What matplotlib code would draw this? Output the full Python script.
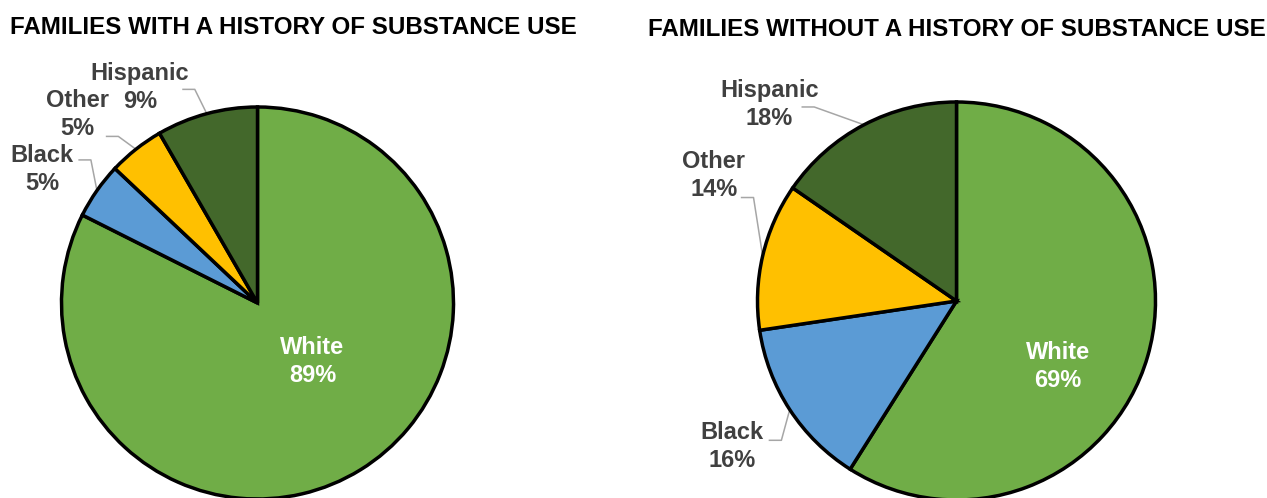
"""Two pie charts: race/ethnicity of families with and without a history of substance use."""

import numpy as np
import matplotlib
matplotlib.use("Agg")
import matplotlib.pyplot as plt

plt.rcParams['font.family'] = ['Liberation Sans', 'DejaVu Sans']

W_PX, H_PX = 1267, 498

CATEGORIES = ["White", "Black", "Other", "Hispanic"]
COLORS = ["#70AD47", "#5B9BD5", "#FFC000", "#43682B"]

WITH_USE = [89, 5, 5, 9]
WITHOUT_USE = [69, 16, 14, 18]

TITLES = ["FAMILIES WITH A HISTORY OF SUBSTANCE USE",
          "FAMILIES WITHOUT A HISTORY OF SUBSTANCE USE"]

LABEL_GRAY = "#404040"
LEADER_GRAY = "#A6A6A6"

# pie centers and radii in pixels (x from left, y from top)
CENTERS = [(257.5, 303), (956.5, 301)]
RADII = [196, 199]
TITLE_POS = [(10, 27), (648, 30)]
LINE_GAP_PX = 28  # distance between name line and percent line

# label text positions and leader start points, in pie units (radius = 1)
TEXT_POS = [
    [(0.28, -0.30), (-1.10, 0.68), (-0.92, 0.96), (-0.60, 1.10)],
    [(0.51, -0.33), (-1.13, -0.73), (-1.22, 0.63), (-0.94, 0.985)],
]
LEADER_START = [
    [None, (-0.91, 0.73), (-0.77, 0.85), (-0.38, 1.09)],
    [None, (-0.94, -0.70), (-1.08, 0.52), (-0.775, 0.975)],
]


def drawPie(fig, center, radius, values, text_pos, leader_start):
    cx, cy = center
    ax = fig.add_axes([(cx - radius) / W_PX, (H_PX - cy - radius) / H_PX,
                       2 * radius / W_PX, 2 * radius / H_PX])
    wedges, _ = ax.pie(values, colors=COLORS, startangle=90, counterclock=False,
                       radius=1, wedgeprops=dict(edgecolor="black", linewidth=2.5))
    for w in wedges:
        w.set_clip_on(False)
    ax.set_xlim(-1, 1)
    ax.set_ylim(-1, 1)
    ax.set_aspect("equal")
    ax.axis("off")

    half_gap = LINE_GAP_PX / 2 / radius
    for i, (cat, val, w) in enumerate(zip(CATEGORIES, values, wedges)):
        tx, ty = text_pos[i]
        color = "white" if i == 0 else LABEL_GRAY
        style = dict(ha="center", va="center", fontsize=17, fontweight="bold",
                     color=color, clip_on=False)
        ax.text(tx, ty + half_gap, cat, **style)
        ax.text(tx, ty - half_gap, f"{val}%", **style)
        if leader_start[i] is not None:
            mid = np.deg2rad((w.theta1 + w.theta2) / 2)
            sx, sy = leader_start[i]
            xs = [sx, sx + 0.06, np.cos(mid)]
            ys = [sy, sy, np.sin(mid)]
            ax.plot(xs, ys, color=LEADER_GRAY, linewidth=1.1, clip_on=False, zorder=0)
    return ax


fig = plt.figure(figsize=(W_PX / 100, H_PX / 100), dpi=100)

for center, radius, values, tpos, lstart, title, (tx, ty) in zip(
        CENTERS, RADII, [WITH_USE, WITHOUT_USE], TEXT_POS, LEADER_START, TITLES, TITLE_POS):
    drawPie(fig, center, radius, values, tpos, lstart)
    fig.text(tx / W_PX, 1 - ty / H_PX, title, ha="left", va="center",
             fontsize=17.4, fontweight="bold", color="black")

fig.savefig("out.png", dpi=100)
